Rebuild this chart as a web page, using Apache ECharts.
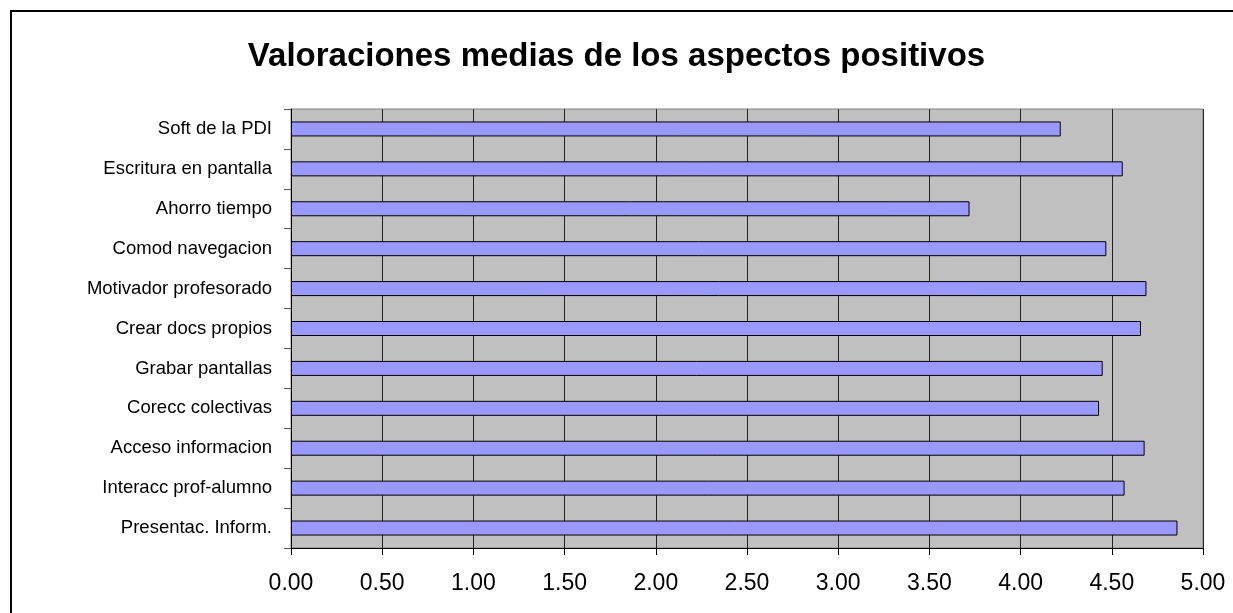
<!DOCTYPE html>
<html>
<head>
<meta charset="utf-8">
<title>Valoraciones medias de los aspectos positivos</title>
<script src="https://cdn.jsdelivr.net/npm/echarts@6/dist/echarts.min.js"></script>
<style>
    html, body { margin: 0; padding: 0; background: #fff; overflow: hidden; }
    #frame { position: absolute; left: 10px; top: 10px; width: 1300px; height: 700px; border: 2px solid #000; }
    #chart { position: absolute; left: 0; top: 0; width: 1233px; height: 613px; }
</style>
</head>
<body>
<div id="frame"></div>
<div id="chart"></div>
<script>
    // de abajo hacia arriba, como en la hoja original
    const categories = [
        'Presentac. Inform.',
        'Interacc prof-alumno',
        'Acceso informacion',
        'Corecc colectivas',
        'Grabar pantallas',
        'Crear docs propios',
        'Motivador profesorado',
        'Comod navegacion',
        'Ahorro tiempo',
        'Escritura en pantalla',
        'Soft de la PDI'
    ];
    const valores = [4.86, 4.57, 4.68, 4.43, 4.45, 4.66, 4.69, 4.47, 3.72, 4.56, 4.22];

    const fuente = 'Liberation Sans, Arial, sans-serif';

    const chart = echarts.init(document.getElementById('chart'));
    chart.setOption({
        backgroundColor: 'transparent',
        animation: false,
        title: {
            text: 'Valoraciones medias de los aspectos positivos',
            left: 'center',
            top: 35,
            padding: [5, 5, 5, 19],
            textStyle: {
                fontFamily: fuente,
                fontSize: 33,
                fontWeight: 'bold',
                color: '#000'
            }
        },
        grid: {
            left: 291,
            right: 30,
            top: 109,
            bottom: 65,
            show: true,
            backgroundColor: '#c0c0c0',
            borderColor: '#808080',
            borderWidth: 1
        },
        xAxis: {
            type: 'value',
            min: 0,
            max: 5,
            interval: 0.5,
            axisLine: {show: true, lineStyle: {color: '#000', width: 1}},
            axisTick: {show: true, length: 7, lineStyle: {color: '#000'}},
            splitLine: {show: true, lineStyle: {color: '#222', width: 1}},
            axisLabel: {
                margin: 24,
                fontFamily: fuente,
                fontSize: 23,
                color: '#000',
                formatter: v => v.toFixed(2)
            }
        },
        yAxis: {
            type: 'category',
            data: categories,
            axisLine: {show: true, lineStyle: {color: '#000', width: 1}},
            axisTick: {show: true, length: 7, lineStyle: {color: '#555'}},
            axisLabel: {
                margin: 19,
                fontFamily: fuente,
                fontSize: 18.5,
                color: '#000'
            }
        },
        series: [{
            type: 'bar',
            data: valores,
            barWidth: 15,
            itemStyle: {
                color: '#9999ff',
                borderColor: '#000',
                borderWidth: 1
            }
        }]
    });
</script>
</body>
</html>
